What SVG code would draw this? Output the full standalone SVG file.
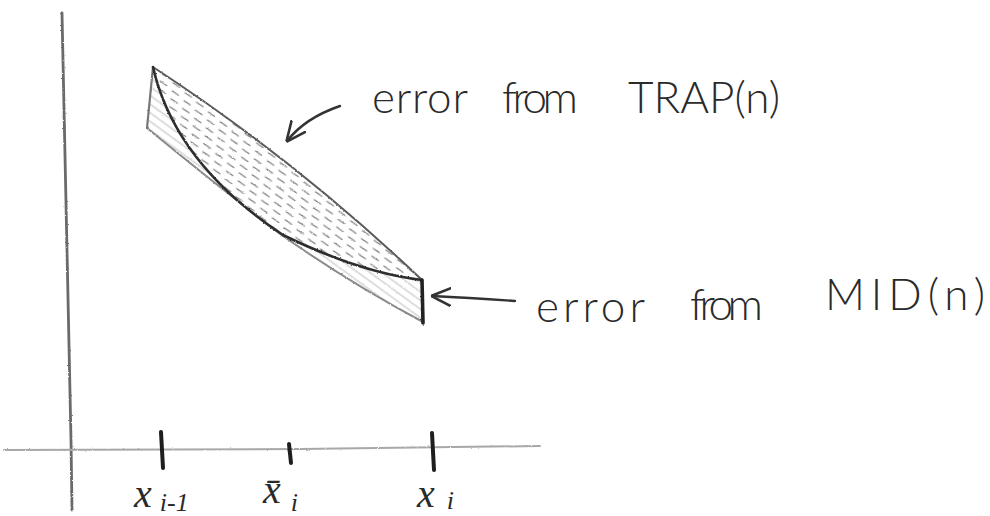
<svg xmlns="http://www.w3.org/2000/svg" width="990" height="516" viewBox="0 0 990 516">
  <defs>
    <style>
      .hand { font-family: Lato, "Open Sans", "Liberation Sans", sans-serif; font-weight: 300; font-size: 44px; fill: #2a2a2a; }
      .math { font-family: "Liberation Serif", "DejaVu Serif", serif; font-style: italic; fill: #2a2a2a; }
      .pencil { fill: none; stroke-linecap: round; stroke-linejoin: round; }
      .tick { stroke: #1e1e1e; stroke-width: 4; stroke-linecap: round; }
      .conn { fill: none; stroke: #333; stroke-width: 2.4; stroke-linecap: round; }
    </style>
    <filter id="rough" x="-5%" y="-5%" width="110%" height="110%">
      <feTurbulence type="fractalNoise" baseFrequency="0.6" numOctaves="2" seed="3" result="n"/>
      <feDisplacementMap in="SourceGraphic" in2="n" scale="2" xChannelSelector="R" yChannelSelector="G"/>
    </filter>
    <marker id="chev" viewBox="0 0 10 10" refX="9.5" refY="5" markerWidth="20" markerHeight="20" markerUnits="userSpaceOnUse" orient="auto">
      <path d="M0,0.5 L10,5 L0,9.5" fill="none" stroke="#333" stroke-width="1.3" stroke-linecap="round" stroke-linejoin="round"/>
    </marker>
    <pattern id="hatchUp" width="13" height="8" patternUnits="userSpaceOnUse" patternTransform="rotate(8)">
      <line x1="1" y1="2" x2="8" y2="5.5" stroke="#777" stroke-width="1.2" stroke-linecap="round"/>
    </pattern>
    <pattern id="hatchLow" width="8" height="7" patternUnits="userSpaceOnUse" patternTransform="rotate(36)">
      <line x1="0" y1="3" x2="8" y2="3" stroke="#bcbcbc" stroke-width="1"/>
    </pattern>
    <clipPath id="upClip">
      <path d="M153,67 Q297,161 422,280 C380,275 330,258 283,235 C200,180 165,120 153,67 Z"/>
    </clipPath>
    <clipPath id="lowClip">
      <path d="M153,67 L147,128 Q220,188 283,236 Q350,283 423,322 L422,280 C380,275 330,258 283,235 C200,180 165,120 153,67 Z"/>
    </clipPath>
  </defs>

  <rect width="990" height="516" fill="#ffffff"/>

  <g id="axes" filter="url(#rough)">
    <path class="pencil" d="M62,13 Q66,230 71,440 L72,510" stroke="#6a6a6a" stroke-width="2.8"/>
    <path class="pencil" d="M4,450 L300,449 L540,446" stroke="#a8a8a8" stroke-width="2"/>
  </g>

  <g id="ticks">
    <line class="tick" x1="161" y1="432" x2="163" y2="468"/>
    <line class="tick" x1="289" y1="444" x2="291" y2="463"/>
    <line class="tick" x1="432" y1="433" x2="434" y2="470"/>
  </g>

  <g id="error-region" filter="url(#rough)">
    <rect x="140" y="60" width="290" height="270" fill="url(#hatchLow)" clip-path="url(#lowClip)"/>
    <rect x="140" y="60" width="290" height="270" fill="url(#hatchUp)" clip-path="url(#upClip)"/>
    <path class="pencil" d="M147,128 Q220,188 283,236 Q350,283 423,322" stroke="#8a8a8a" stroke-width="2"/>
    <path class="pencil" d="M153,67 L147,128" stroke="#777" stroke-width="2.2"/>
    <path class="pencil" d="M153,67 Q297,161 422,280" stroke="#5a5a5a" stroke-width="2"/>
    <path class="pencil" d="M153,67 C165,120 200,180 283,235 C330,258 380,275 422,280" stroke="#2e2e2e" stroke-width="2.6"/>
    <path class="pencil" d="M422,280 L423,323" stroke="#222" stroke-width="3.6"/>
  </g>

  <g id="label-trap">
    <text class="hand" x="372" y="113" textLength="96">error</text>
    <text class="hand" x="502" y="113" textLength="76">from</text>
    <text class="hand" x="628" y="113" textLength="152">TRAP(n)</text>
  </g>

  <g id="label-mid">
    <text class="hand" x="536" y="322" textLength="109">error</text>
    <text class="hand" x="690" y="320" textLength="73">from</text>
    <text class="hand" x="825" y="310" textLength="160">MID(n)</text>
  </g>

  <g id="axis-labels">
    <text class="math" x="134" y="507" font-size="40">x<tspan font-size="26" dx="8" dy="4">i-1</tspan></text>
    <text class="math" x="263" y="503" font-size="40">x̄<tspan font-size="26" dx="10" dy="8">i</tspan></text>
    <text class="math" x="417" y="507" font-size="40">x<tspan font-size="26" dx="12" dy="2">i</tspan></text>
  </g>

  <g id="connectors">
    <path class="conn" d="M340,106 Q305,118 287,141" marker-end="url(#chev)"/>
    <path class="conn" d="M515,301 Q470,298 432,296" marker-end="url(#chev)"/>
  </g>
</svg>
